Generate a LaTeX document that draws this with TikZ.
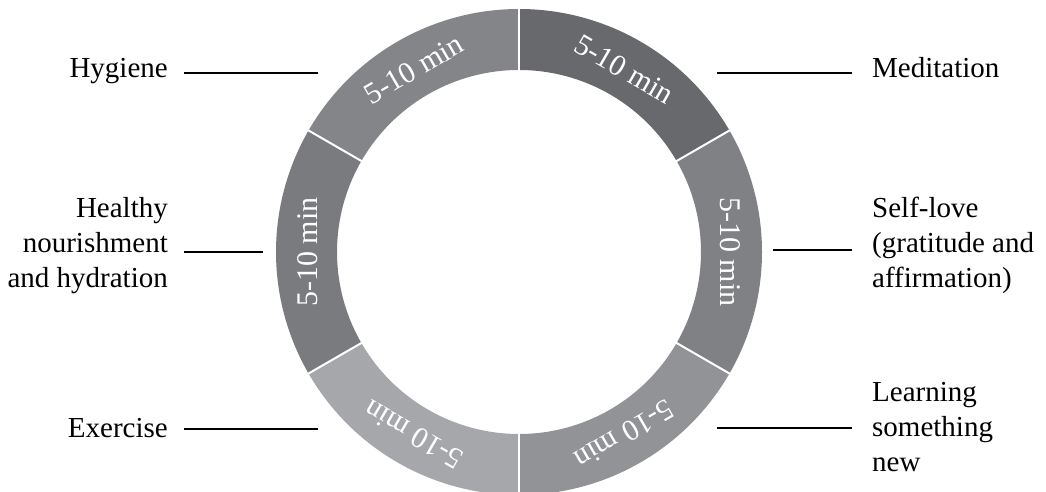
\documentclass[tikz,border=0pt]{standalone}
\usepackage{fontspec}
\setmainfont{Liberation Serif}
\begin{document}
\begin{tikzpicture}[x=1pt,y=1pt,
  lbl/.style={inner sep=0pt, font=\fontsize{29}{35}\selectfont, text=black},
  seglbl/.style={inner sep=0pt, font=\fontsize{30}{34}\selectfont, text=white},
  leader/.style={draw=black, line width=1.1pt},
  sep/.style={draw=white, line width=2pt}]
\useasboundingbox (0,0) rectangle (1046,492);
\definecolor{cMed}{HTML}{68696C}
\definecolor{cSelf}{HTML}{808184}
\definecolor{cLearn}{HTML}{929396}
\definecolor{cEx}{HTML}{A6A7AA}
\definecolor{cHealth}{HTML}{7A7B7E}
\definecolor{cHyg}{HTML}{848588}
\coordinate (c) at (519,240);
\begin{scope}[shift={(c)}]
  \foreach \a/\col in {30/cMed,-30/cSelf,-90/cLearn,-150/cEx,150/cHealth,90/cHyg}{
    \fill[\col] (\a:243) arc[start angle=\a, delta angle=60, radius=243]
      -- ({\a+60}:182) arc[start angle={\a+60}, delta angle=-60, radius=182] -- cycle;
  }
  \foreach \a in {30,-30,90,-90,150,-150}{
    \draw[sep] (\a:181) -- (\a:244);
  }
  \node[seglbl, rotate=-30] (t1) at (60:211) {5-10 min};
  \node[seglbl, rotate=-90] (t2) at (0:211) {5-10 min};
  \node[seglbl, rotate=-150] (t3) at (-60:211) {5-10 min};
  \node[seglbl, rotate=150] (t4) at (-120:211) {5-10 min};
  \node[seglbl, rotate=90] (t5) at (180:211) {5-10 min};
  \node[seglbl, rotate=30] (t6) at (120:211) {5-10 min};
\end{scope}
% left labels
\node[lbl, anchor=base east] (hyg) at (168,414) {Hygiene};
\node[lbl, anchor=base east] (hea) at (168,274) {\begin{tabular}[t]{@{}r@{}}Healthy\\nourishment\\and hydration\end{tabular}};
\node[lbl, anchor=base east] (exe) at (168,54) {Exercise};
% right labels
\node[lbl, anchor=base west] (med) at (872,414) {Meditation};
\node[lbl, anchor=base west] (slf) at (872,274) {\begin{tabular}[t]{@{}l@{}}Self-love\\(gratitude and\\affirmation)\end{tabular}};
\node[lbl, anchor=base west] (lrn) at (872,90) {\begin{tabular}[t]{@{}l@{}}Learning\\something\\new\end{tabular}};
% leaders
\coordinate (hygE) at (318,419);
\coordinate (heaE) at (263,240);
\coordinate (exeE) at (318,63);
\coordinate (medE) at (717,419);
\coordinate (slfE) at (773,242);
\coordinate (lrnE) at (717,64);
\draw[leader] (184,419) -- (hygE);
\draw[leader] (184,240) -- (heaE);
\draw[leader] (184,63) -- (exeE);
\draw[leader] (852,419) -- (medE);
\draw[leader] (852,242) -- (slfE);
\draw[leader] (852,64) -- (lrnE);
\end{tikzpicture}
\end{document}
